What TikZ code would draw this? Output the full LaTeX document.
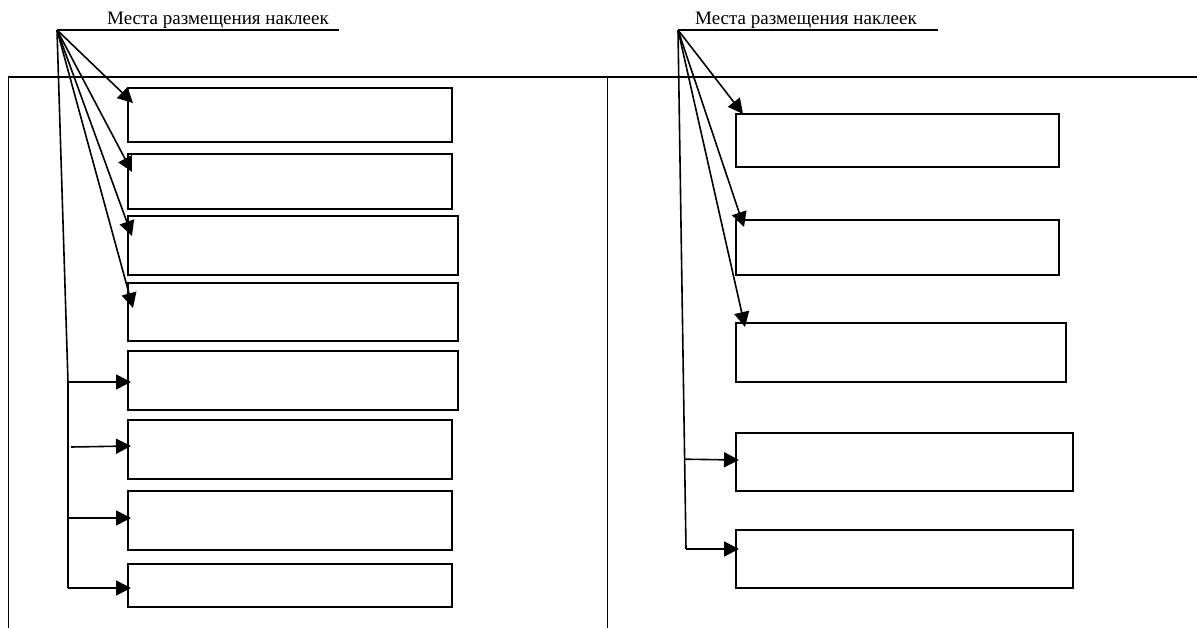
\documentclass[tikz,border=0pt]{standalone}
\usepackage{fontspec}
\setmainfont{Liberation Serif}
\usetikzlibrary{arrows.meta,calc}
\tikzset{
  sticker/.style={draw,line width=1.8pt,rectangle,inner sep=0pt,anchor=north west},
  pointer/.style={line width=1.6pt,-{Triangle[length=15pt,width=15pt]}},
  caption/.style={anchor=base west,inner sep=0pt,font=\fontsize{19}{21}\selectfont},
}
\begin{document}
\begin{tikzpicture}[x=1pt,y=-1pt]
  \useasboundingbox (0,0) rectangle (1197,628);
  % 外框
  \draw[line width=1.8pt] (8,77) -- (1197,77);
  \draw[line width=1pt] (8,77) -- (8,628);
  \draw[line width=1pt] (607,77) -- (607,628);
  % 左侧标签框
  \node[sticker,minimum width=324pt,minimum height=54pt] (L1) at (127,87) {};
  \node[sticker,minimum width=324pt,minimum height=55pt] (L2) at (127,153) {};
  \node[sticker,minimum width=330pt,minimum height=59pt] (L3) at (127,215) {};
  \node[sticker,minimum width=330pt,minimum height=58pt] (L4) at (127,282) {};
  \node[sticker,minimum width=330pt,minimum height=59pt] (L5) at (127,350) {};
  \node[sticker,minimum width=324pt,minimum height=59pt] (L6) at (127,419) {};
  \node[sticker,minimum width=324pt,minimum height=59pt] (L7) at (127,490) {};
  \node[sticker,minimum width=324pt,minimum height=43pt] (L8) at (127,563) {};
  % 右侧标签框
  \node[sticker,minimum width=323pt,minimum height=53pt] (R1) at (735,113) {};
  \node[sticker,minimum width=323pt,minimum height=55pt] (R2) at (735,219) {};
  \node[sticker,minimum width=330pt,minimum height=59pt] (R3) at (735,322) {};
  \node[sticker,minimum width=337pt,minimum height=58pt] (R4) at (735,432) {};
  \node[sticker,minimum width=337pt,minimum height=58pt] (R5) at (735,529) {};
  % 左侧说明
  \node[caption] (capL) at (107,25) {Места размещения наклеек};
  \coordinate (jL) at (57,30);
  \draw[line width=1.2pt] (jL) -- ($(capL.base east)+(10,5)$);
  \draw[pointer] (jL) -- ($(L1.north west)+(6,16)$);
  \draw[pointer] (jL) -- ($(L2.north west)+(5,19)$);
  \draw[pointer] (jL) -- ($(L3.north west)+(5,21)$);
  \draw[pointer] (jL) -- ($(L4.north west)+(6,26)$);
  \coordinate (kL) at (68,382);
  \coordinate (mL) at (68,588);
  \draw[line width=1.6pt] (jL) -- (kL) -- (mL);
  \draw[pointer] (kL) -- ($(L5.north west)+(4,32)$);
  \draw[pointer] ($(kL)+(3,65)$) -- ($(L6.north west)+(4,27)$);
  \draw[pointer] ($(kL)+(0,136)$) -- ($(L7.north west)+(4,28)$);
  \draw[pointer] (mL) -- ($(L8.north west)+(4,25)$);
  % 右侧说明
  \node[caption] (capR) at (695,25) {Места размещения наклеек};
  \coordinate (jR) at (678,30);
  \draw[line width=1.2pt] (jR) -- ($(capR.base east)+(21,5)$);
  \draw[pointer] (jR) -- ($(R1.north west)+(8,1)$);
  \draw[pointer] (jR) -- ($(R2.north west)+(9,8)$);
  \draw[pointer] (jR) -- ($(R3.north west)+(10,5)$);
  \coordinate (kR) at (686,549);
  \draw[line width=1.6pt] (jR) -- (kR);
  \draw[pointer] ($(jR)!0.827!(kR)$) -- ($(R4.north west)+(4,28)$);
  \draw[pointer] (kR) -- ($(R5.north west)+(4,20)$);
\end{tikzpicture}
\end{document}
